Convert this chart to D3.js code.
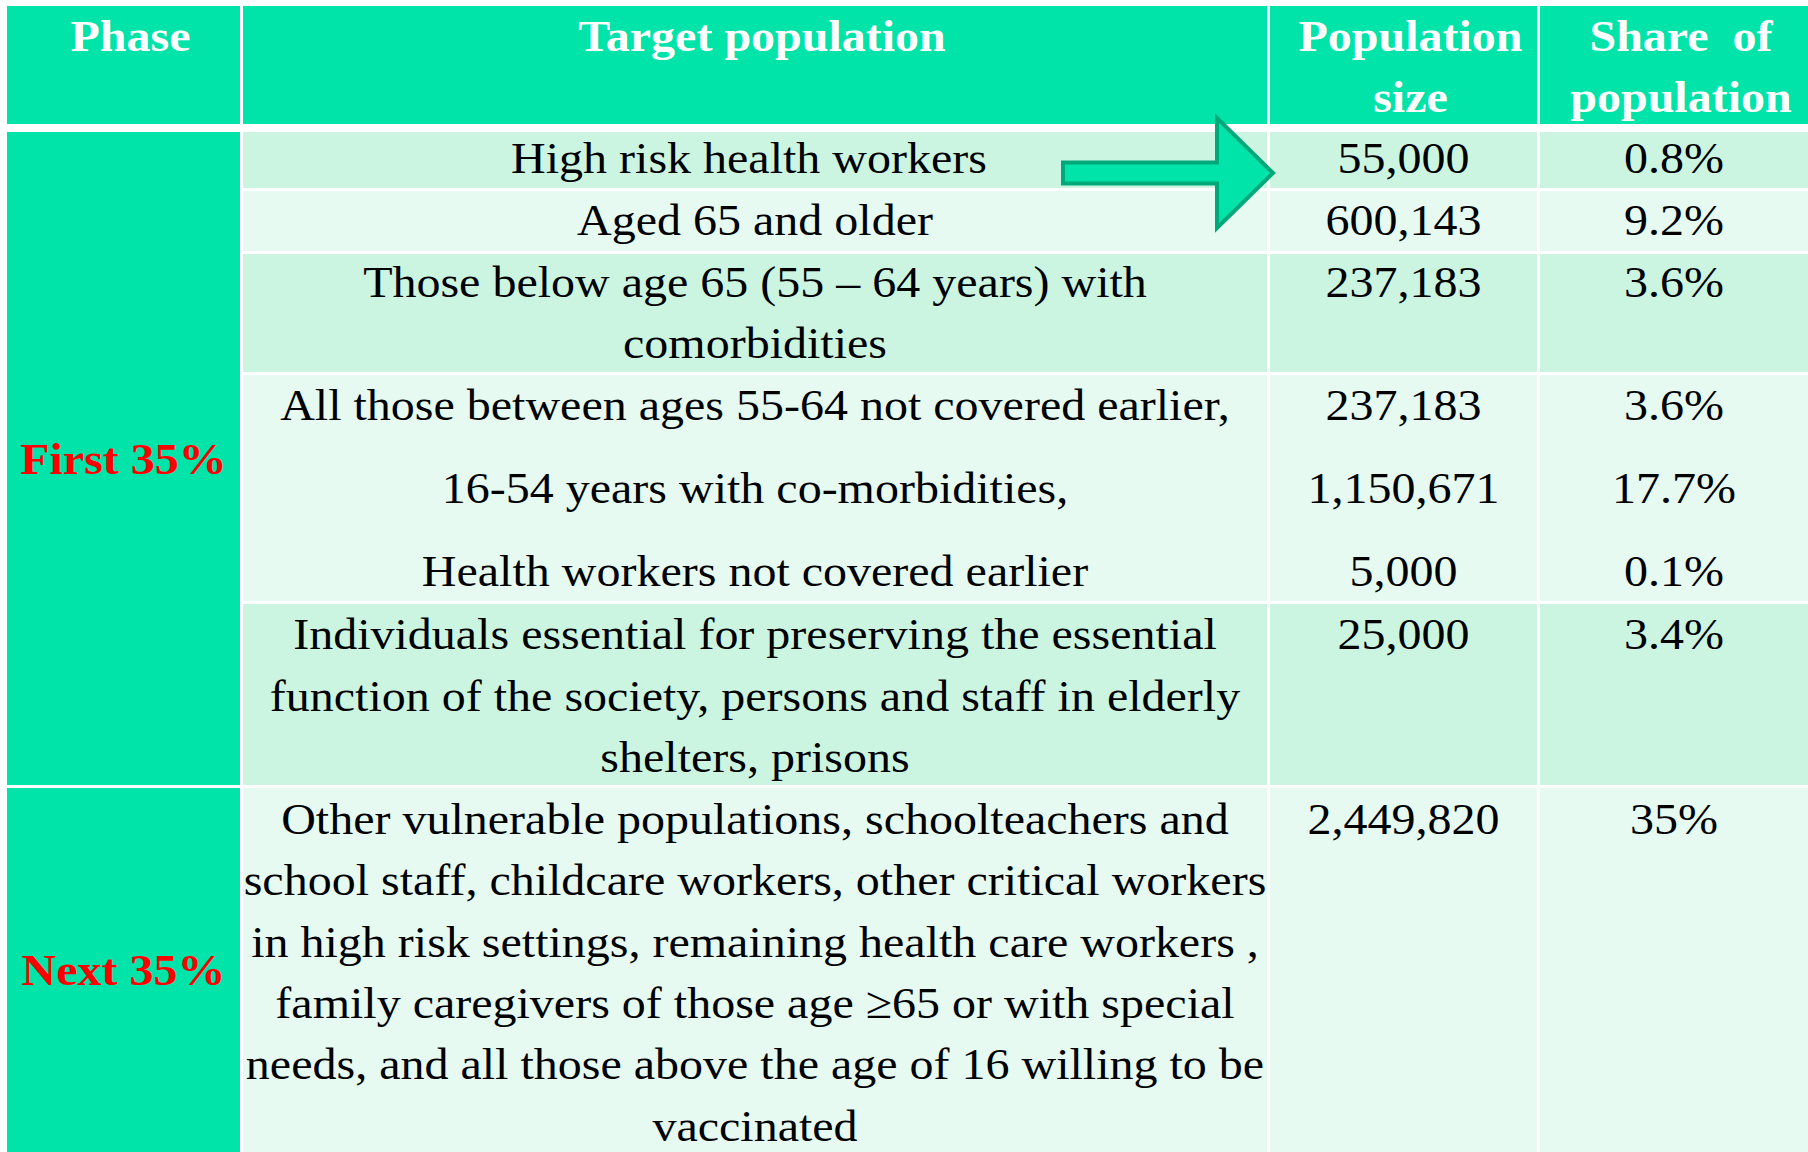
<!DOCTYPE html>
<html lang="en">
<head>
    <meta charset="UTF-8">
    <title>Vaccination phases</title>
    <script src="https://d3js.org/d3.v7.min.js"></script>
    <style>
        body{
            margin: 0;
            background: #ffffff;
        }
        text{
            font-family: "Liberation Serif", "Times New Roman", serif;
            white-space: pre;
        }
    </style>
</head>

<body>
<div id="fig"></div>
<script>
    // table content
    let headers = [["Phase"], ["Target population"], ["Population", "size"], ["Share  of", "population"]];
    let phases = ["First 35%", "Next 35%"];
    let phaseSpan = [[0, 4], [5, 5]];
    let targets = [
        ["High risk health workers "],
        ["Aged 65 and older"],
        ["Those below age 65 (55 \u2013 64 years) with", "comorbidities"],
        ["All those between ages 55-64 not covered earlier,", "16-54 years with co-morbidities,", "Health workers not covered earlier"],
        ["Individuals essential for preserving the essential", "function of the society, persons and staff in elderly", "shelters, prisons"],
        ["Other vulnerable populations, schoolteachers and", "school staff, childcare workers, other critical workers", "in high risk settings, remaining health care workers ,", "family caregivers of those age \u226565 or with special", "needs, and all those above the age of 16 willing to be", "vaccinated"]
    ];
    let sizes = [["55,000"], ["600,143"], ["237,183"], ["237,183", "1,150,671", "5,000"], ["25,000"], ["2,449,820"]];
    let shares = [["0.8%"], ["9.2%"], ["3.6%"], ["3.6%", "17.7%", "0.1%"], ["3.4%"], ["35%"]];

    // layout
    let W = 1808, H = 1152;
    let gap = 3;
    let colLefts = [7, 243, 1270, 1540];
    let colRight = W;
    let headTop = 6, headBottom = 124;
    let rowHeights = [56, 60, 118, 226, 181, 364];
    let linePitch = [61, 61, 61, 83, 61.5, 61.3];
    let firstBase = [41, 44, 43, 45, 45, 46];
    let fontSize = 48, squash = 0.94;
    let green = "#00e4aa", darkRow = "#cbf5e1", lightRow = "#e6faf1";

    let svg = d3.select("#fig").append("svg")
        .attr("width", W).attr("height", H)
        .attr("viewBox", `0 0 ${W} ${H}`);

    let cols = d3.range(headers.length);
    let colX = d3.scaleOrdinal().domain(cols).range(colLefts);
    let colW = i => (i < cols.length - 1 ? colLefts[i + 1] - gap : colRight) - colLefts[i];
    let colC = i => colX(i) + colW(i) / 2;

    let rowTops = [];
    let acc = headBottom + 8;
    rowHeights.forEach(h => { rowTops.push(acc); acc += h + gap; });
    let rowY = d3.scaleOrdinal().domain(d3.range(targets.length)).range(rowTops);

    // one line of text, slightly squashed vertically like the original slide
    function label(g, x, y, str, opts) {
        return g.append("text")
            .attr("transform", `translate(${x},${y}) scale(1,${squash})`)
            .attr("text-anchor", "middle")
            .attr("font-size", fontSize)
            .attr("font-weight", opts.bold ? "bold" : null)
            .attr("fill", opts.fill)
            .text(str);
    }

    // header
    let head = svg.append("g").attr("class", "header");
    head.selectAll("rect").data(cols).join("rect")
        .attr("x", d => colX(d)).attr("y", headTop)
        .attr("width", d => colW(d)).attr("height", headBottom - headTop)
        .attr("fill", green);
    cols.forEach(c => {
        headers[c].forEach((h, i) => {
            label(head, colC(c) + 7, headTop + 45 + i * 61, h, {bold: true, fill: "#ffffff"});
        });
    });

    // phase cells
    let ph = svg.append("g").attr("class", "phases");
    phases.forEach((p, i) => {
        let top = rowY(phaseSpan[i][0]);
        let bottom = rowY(phaseSpan[i][1]) + rowHeights[phaseSpan[i][1]];
        ph.append("rect")
            .attr("x", colX(0)).attr("y", top)
            .attr("width", colW(0)).attr("height", bottom - top)
            .attr("fill", green);
        label(ph, colC(0), (top + bottom) / 2 + 15, p, {bold: true, fill: "#ff0000"});
    });

    // body cells
    let body = svg.append("g").attr("class", "body");
    let columnsData = [targets, sizes, shares];
    targets.forEach((t, r) => {
        [1, 2, 3].forEach(c => {
            body.append("rect")
                .attr("x", colX(c)).attr("y", rowY(r))
                .attr("width", colW(c)).attr("height", rowHeights[r])
                .attr("fill", r % 2 === 0 ? darkRow : lightRow);
            columnsData[c - 1][r].forEach((line, i) => {
                label(body, colC(c), rowY(r) + firstBase[r] + i * linePitch[r], line, {fill: "#000000"});
            });
        });
    });

    // arrow pointing at the first row's population size
    let tipX = colX(2) + 3, cy = rowY(0) + 41;
    let arrowLen = 210, headLen = 56, headHalf = 55, shaftHalf = 10.5;
    let a = d3.path();
    a.moveTo(tipX - arrowLen, cy - shaftHalf);
    a.lineTo(tipX - headLen, cy - shaftHalf);
    a.lineTo(tipX - headLen, cy - headHalf);
    a.lineTo(tipX, cy);
    a.lineTo(tipX - headLen, cy + headHalf);
    a.lineTo(tipX - headLen, cy + shaftHalf);
    a.lineTo(tipX - arrowLen, cy + shaftHalf);
    a.closePath();
    svg.append("path")
        .attr("d", a.toString())
        .attr("fill", green)
        .attr("stroke", "#00a87a")
        .attr("stroke-width", 4)
        .attr("stroke-linejoin", "miter");
</script>
</body>
</html>
